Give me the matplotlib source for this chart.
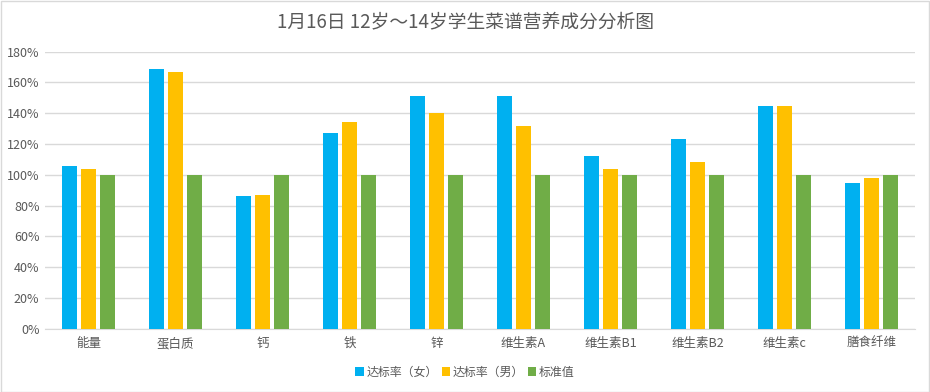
import matplotlib as mpl
mpl.use('agg')
import matplotlib.pyplot as plt
import numpy as np
from matplotlib.patches import Rectangle

plt.rcParams['font.family'] = ['Noto Sans CJK SC', 'DejaVu Sans']

categories = ['能量', '蛋白质', '钙', '铁', '锌', '维生素A', '维生素B1', '维生素B2', '维生素c', '膳食纤维']
female = [106, 169, 86, 127, 151, 151, 112, 123, 145, 95]
male = [104, 167, 87, 134, 140, 132, 104, 108, 145, 98]
standard = [100, 100, 100, 100, 100, 100, 100, 100, 100, 100]
series_names = ['达标率（女）', '达标率（男）', '标准值']
colors = ['#00B0F0', '#FFC000', '#70AD47']
yticks = np.arange(0, 181, 20)

fig = plt.figure(figsize=(9.3, 3.92), dpi=100)
# light chart border like the Excel frame
fig.patches.append(Rectangle((0.5 / 930, 0.5 / 392), 1 - 1.5 / 930, 1 - 1.5 / 392,
                             transform=fig.transFigure, fill=False,
                             edgecolor='#d9d9d9', linewidth=1))

ax = fig.add_axes([45 / 930, (392 - 328.7) / 392, 870 / 930, 277 / 392])

x = np.arange(len(categories))
step = 0.215
width = 0.175
for i, (vals, name, c) in enumerate(zip([female, male, standard], series_names, colors)):
    ax.bar(x + (i - 1) * step, np.array(vals) / 100, width=width, color=c, label=name, zorder=3)

ax.set_xlim(-0.5, len(categories) - 0.5)
ax.set_ylim(0, 1.8)
ax.set_yticks(yticks / 100)
ax.set_yticklabels([f'{v}%' for v in yticks])
ax.set_xticks(x)
ax.set_xticklabels(categories)
ax.grid(axis='y', color='#d9d9d9', linewidth=1, zorder=0)
for s in ['top', 'right', 'left']:
    ax.spines[s].set_visible(False)
ax.spines['bottom'].set_color('#d9d9d9')
ax.tick_params(axis='both', length=0, colors='#595959', labelsize=9)
ax.tick_params(axis='x', pad=6)
ax.tick_params(axis='y', pad=4)

fig.text(0.5, 1 - 22 / 392, '1月16日 12岁～14岁学生菜谱营养成分分析图', ha='center', va='center',
         fontsize=13.5, color='#595959')

fig.legend(loc='center', bbox_to_anchor=(0.5, 1 - 372 / 392), ncol=3, frameon=False,
           fontsize=8.6, handlelength=0.7, handleheight=0.7, handletextpad=0.25,
           columnspacing=0.3, labelcolor='#595959')

fig.savefig('out.png', dpi=100)
